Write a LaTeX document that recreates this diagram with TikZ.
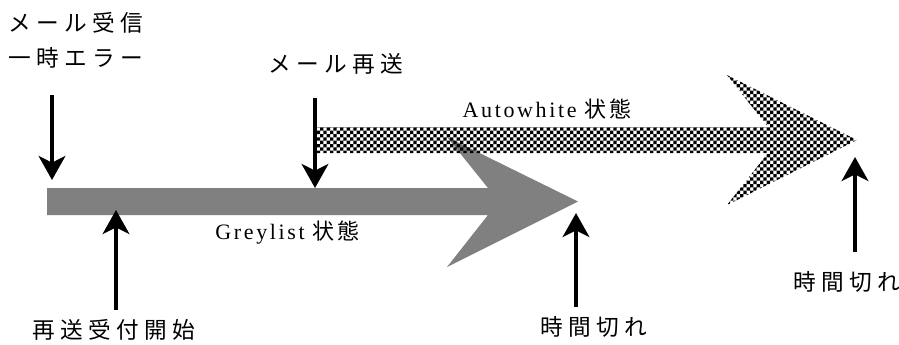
\documentclass[tikz,border=0pt]{standalone}
\usepackage{fontspec}
\setmainfont{Liberation Serif}
\newfontfamily\jpfont[LetterSpace=24]{Noto Sans CJK JP}
\newfontfamily\lsserif[LetterSpace=12]{Liberation Serif}
\newfontfamily\lsjp[LetterSpace=12]{Noto Sans CJK JP}
\usetikzlibrary{arrows.meta,patterns}
\pgfdeclarepatternformonly{bigchecker}{\pgfqpoint{-.1pt}{-.1pt}}{\pgfqpoint{5.1pt}{5.1pt}}{\pgfqpoint{5pt}{5pt}}{%
  \pgfpathrectangle{\pgfqpoint{0pt}{0pt}}{\pgfqpoint{2.5pt}{2.5pt}}%
  \pgfpathrectangle{\pgfqpoint{2.5pt}{2.5pt}}{\pgfqpoint{2.5pt}{2.5pt}}%
  \pgfusepath{fill}}
\tikzset{
  jlabel/.style={inner sep=0pt, font=\jpfont\fontsize{17pt}{20pt}\selectfont},
  slabel/.style={inner sep=0pt, font=\lsserif\fontsize{16.5pt}{19pt}\selectfont},
  evt/.style={line width=3pt, -{Stealth[length=18pt,width=20pt,inset=5pt]}},
  greyband/.style={fill=black!50, draw=none},
  autoband/.style={pattern=bigchecker, pattern color=black, draw=none}
}
\begin{document}
\begin{tikzpicture}[x=0.75pt, y=-0.75pt]
\useasboundingbox (0,0) rectangle (899,344);
% big state arrows
\path[greyband] (47,188) -- (488,188) -- (447,137) -- (578,201.5) -- (447,267) -- (488,215) -- (47,215) -- cycle;
\path[autoband] (315,127) -- (768,127) -- (727,75) -- (857,140) -- (727,205) -- (768,153) -- (315,153) -- cycle;
% labels
\node[jlabel] (recv) at (76,23) {メール受信};
\node[jlabel] (terr) at (76,58) {一時エラー};
\node[jlabel] (resend) at (336,64) {メール再送};
\node[jlabel] (accept) at (114,330) {再送受付開始};
\node[jlabel] (tout1) at (593.5,327) {時間切れ};
\node[jlabel] (tout2) at (847,282) {時間切れ};
\node[slabel] (auto) at (547,109) {Autowhite {\lsjp 状態}};
\node[slabel] (grey) at (287.5,233) {Greylist {\lsjp 状態}};
% event arrows
\coordinate (a1s) at (52,95);   \coordinate (a1e) at (52,180);
\coordinate (a2s) at (315,98);  \coordinate (a2e) at (315,188);
\coordinate (a3s) at (116,310); \coordinate (a3e) at (116,210);
\coordinate (a4s) at (576,307); \coordinate (a4e) at (576,213);
\coordinate (a5s) at (855,252); \coordinate (a5e) at (855,157);
\draw[evt] (a1s) -- (a1e);
\draw[evt] (a2s) -- (a2e);
\draw[evt] (a3s) -- (a3e);
\draw[evt] (a4s) -- (a4e);
\draw[evt] (a5s) -- (a5e);
\end{tikzpicture}
\end{document}
